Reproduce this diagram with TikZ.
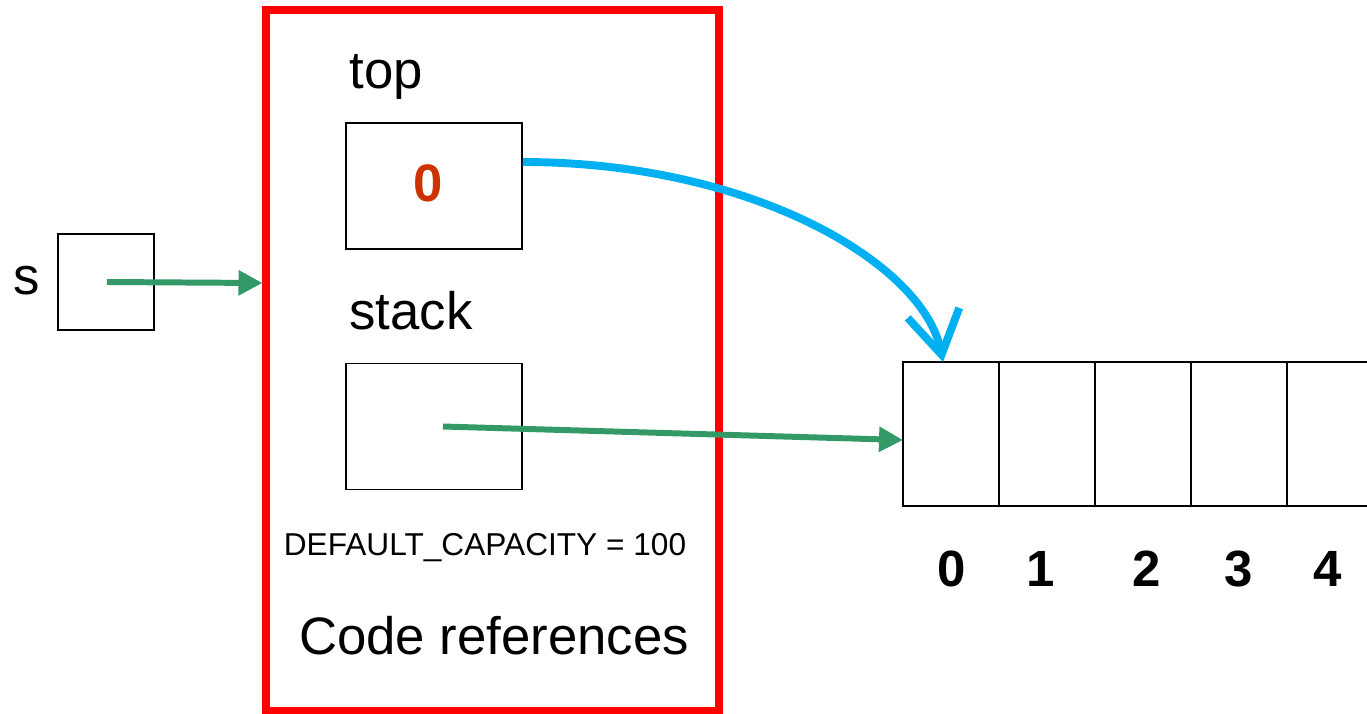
\documentclass[tikz,border=0pt]{standalone}
\usepackage{fontspec}
\setmainfont{Liberation Sans}
\usepackage{tikz}
\usetikzlibrary{positioning,arrows.meta}

\definecolor{refred}{HTML}{FF0000}
\definecolor{ptrgreen}{HTML}{339966}
\definecolor{topblue}{HTML}{00B0F0}
\definecolor{valred}{HTML}{CC3300}

\tikzset{
 membox/.style={draw,line width=0.85pt,minimum width=3.52cm,minimum height=2.52cm},
 cell/.style={draw,line width=0.85pt,minimum width=1.92cm,minimum height=2.88cm,outer sep=0pt},
 biglabel/.style={font=\fontsize{30}{36}\selectfont},
 idx/.style={font=\fontsize{29}{34}\selectfont\bfseries},
 ptr/.style={draw=ptrgreen,line width=3.4pt,-{Triangle[length=0.48cm,width=0.48cm]}},
}

\begin{document}
\begin{tikzpicture}
 \path[clip,use as bounding box] (0,0) rectangle (27.34,-14.26);
 % the stack object
 \node[draw=refred,line width=4pt,minimum width=9.06cm,minimum height=14.02cm] (refs) at (9.85,-7.21) {};
 \node[biglabel,anchor=base] (toplbl) at (7.72,-1.76) {top};
 \node[membox] (topbox) at (8.68,-3.72) {};
 \node[font=\fontsize{30}{36}\selectfont\bfseries,text=valred] (topval) at ([xshift=-0.12cm,yshift=0.06cm]topbox.center) {0};
 \node[biglabel,anchor=base] (stacklbl) at (8.22,-6.58) {stack};
 \node[membox] (stackbox) at (8.68,-8.53) {};
 \node[font=\fontsize{18}{22}\selectfont] (cap) at (9.70,-10.96) {DEFAULT\_CAPACITY = 100};
 \node[biglabel] (coderefs) at (9.88,-12.72) {Code references};
 % the variable s
 \node[draw,line width=0.85pt,minimum width=1.92cm,minimum height=1.92cm] (sbox) at (2.12,-5.64) {};
 \node[biglabel] (slbl) at (0.54,-5.62) {s};
 % the array
 \node[cell,anchor=north west] (c0) at (18.06,-7.24) {};
 \node[cell,right=0pt of c0] (c1) {};
 \node[cell,right=0pt of c1] (c2) {};
 \node[cell,right=0pt of c2] (c3) {};
 \node[cell,right=0pt of c3] (c4) {};
 \node[idx] (i0) at (19.04,-11.38) {0};
 \node[idx] (i1) at (20.82,-11.38) {1};
 \node[idx] (i2) at (22.94,-11.38) {2};
 \node[idx] (i3) at (24.78,-11.38) {3};
 \node[idx] (i4) at (26.56,-11.38) {4};
 % pointers
 \draw[ptr] ([xshift=0.02cm]sbox.center) -- ([yshift=-0.02cm]sbox.center -| refs.west);
 \draw[ptr] ([xshift=0.18cm]stackbox.center) -- ([yshift=-0.12cm]c0.west);
 \draw[topblue,line width=4.5pt,-{Straight Barb[length=0.85cm,width=1.05cm]}] ([yshift=0.48cm]topbox.east) .. controls +(4.6,0) and +(-0.38,1.96) .. ([xshift=-0.16cm]c0.north);
\end{tikzpicture}
\end{document}
